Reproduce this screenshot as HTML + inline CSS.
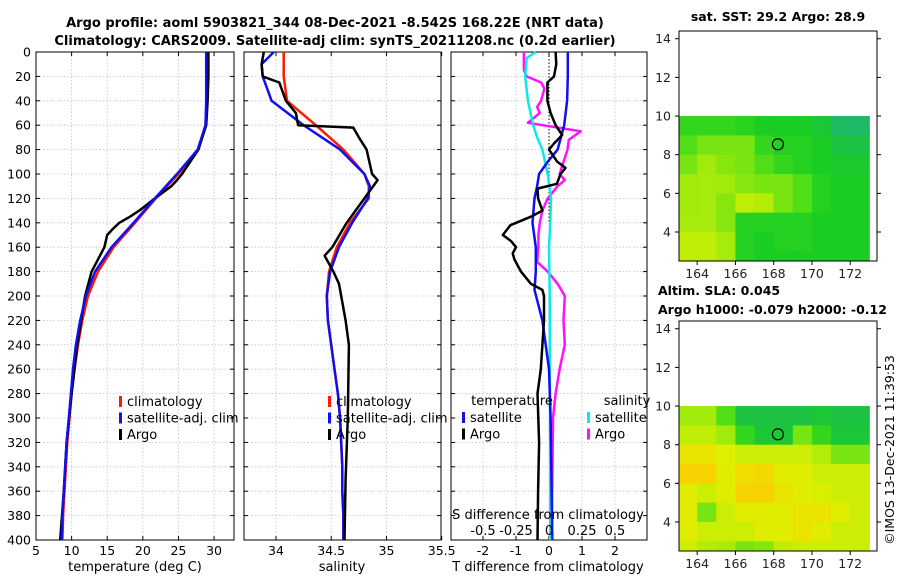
<!DOCTYPE html>
<html><head><meta charset="utf-8">
<style>
html,body{margin:0;padding:0;background:#fff;}
svg{display:block;font-family:"DejaVu Sans","Liberation Sans",sans-serif;}
</style></head>
<body>
<svg id="fig" width="900" height="580" viewBox="0 0 900 580" xmlns="http://www.w3.org/2000/svg">
<text x="335" y="27" text-anchor="middle" font-size="13" font-weight="bold">Argo profile: aoml 5903821_344 08-Dec-2021 -8.542S 168.22E (NRT data)</text>
<text x="335" y="45" text-anchor="middle" font-size="13" font-weight="bold">Climatology: CARS2009. Satellite-adj clim: synTS_20211208.nc (0.2d earlier)</text>
<text x="778" y="21" text-anchor="middle" font-size="12.5" font-weight="bold">sat. SST: 29.2 Argo: 28.9</text>
<text x="658" y="295" font-size="12.5" font-weight="bold">Altim. SLA: 0.045</text>
<text x="658" y="314" font-size="12.5" font-weight="bold">Argo h1000: -0.079 h2000: -0.12</text>
<text transform="translate(894,450) rotate(-90)" text-anchor="middle" font-size="12.5">©IMOS 13-Dec-2021 11:39:53</text>
<g id="plots"></g>
</svg>
<script>
// ---- data ----
const depthTicks = [0,20,40,60,80,100,120,140,160,180,200,220,240,260,280,300,320,340,360,380,400];
const tempTicks = [5,10,15,20,25,30];
const salTicks = [34,34.5,35,35.5];
const tdiffTicks = [-2,-1,0,1,2];
const sdiffTicks = [-0.5,-0.25,0,0.25,0.5];
const sdiffLabels = ["-0.5","-0.25","0","0.25","0.5"];

const climTempDepth = [0,20,40,60,80,100,120,140,160,180,200,220,240,260,280,300,320,340,360,380,400];
const climTemp = [29.0,29.0,29.0,28.8,27.8,25.0,21.8,18.9,15.9,13.7,12.3,11.5,10.9,10.4,10.0,9.7,9.4,9.2,9.0,8.8,8.7];
const satTemp = [28.9,28.9,28.9,28.8,27.7,24.8,21.7,18.7,15.6,13.3,12.0,11.2,10.6,10.2,9.9,9.6,9.3,9.1,8.9,8.7,8.6];
const argoTempDepth = [0,20,40,60,80,100,105,110,120,130,135,140,145,150,160,170,180,200,240,280,320,360,400];
const argoTemp = [29.2,29.2,29.1,28.9,27.8,25.5,24.8,24.0,21.7,19.5,18.2,16.7,15.8,15.0,14.6,13.7,12.8,11.9,10.8,10.0,9.3,8.9,8.4];

const salDepth = [0,10,20,40,60,80,100,110,120,140,160,180,200,220,240,260,280,300,320,340,360,380,400];
const climSal = [34.07,34.07,34.07,34.1,34.36,34.61,34.8,34.84,34.84,34.67,34.55,34.48,34.46,34.47,34.5,34.53,34.56,34.58,34.59,34.6,34.6,34.61,34.61];
const satSal = [33.98,33.87,33.88,33.96,34.25,34.58,34.8,34.85,34.83,34.69,34.57,34.49,34.46,34.47,34.5,34.53,34.56,34.58,34.59,34.6,34.6,34.61,34.61];
const argoSalDepth = [0,10,20,25,40,50,60,62,70,80,100,105,120,140,160,167,180,190,220,240,300,350,400];
const argoSal = [33.89,33.87,33.88,34.03,34.09,34.18,34.2,34.7,34.75,34.82,34.87,34.92,34.8,34.64,34.51,34.44,34.52,34.57,34.63,34.66,34.65,34.63,34.62];

const tdiffDepth = [0,10,20,25,40,50,60,68,75,80,90,95,100,108,112,120,130,135,142,150,155,160,165,170,180,190,195,200,220,260,280,320,360,400];
const argoTdiff = [0.2,0.22,0.15,-0.05,-0.05,0.05,0.2,0.4,0.15,0.0,0.25,0.5,0.35,0.24,-0.35,-0.33,-0.2,-0.55,-1.17,-1.4,-1.15,-1.0,-1.1,-1.05,-0.85,-0.55,-0.2,-0.15,-0.15,-0.25,-0.35,-0.3,-0.33,-0.35];
const satTdiffDepth = [0,20,40,60,70,80,90,100,110,120,140,160,180,195,220,240,260,300,400];
const satTdiff = [0.57,0.57,0.55,0.46,0.36,0.26,-0.04,-0.3,-0.36,-0.44,-0.5,-0.4,-0.4,-0.44,-0.2,-0.1,0.0,0.05,0.1];
const sdiffDepth = [0,5,20,40,60,70,80,100,120,140,160,200,400];
const satSdiff = [-0.1,-0.17,-0.18,-0.16,-0.12,-0.09,-0.05,-0.01,0.015,0.01,0,0.005,0.01];
const argoSdiffDepth = [0,15,20,25,30,40,45,50,58,65,72,80,100,105,110,120,130,140,150,160,172,180,190,200,220,240,260,280,300,400];
const argoSdiff = [-0.19,-0.19,-0.17,-0.06,-0.035,-0.06,-0.09,-0.07,-0.16,0.24,0.15,0.14,0.08,0.12,0.065,-0.01,-0.05,-0.07,-0.08,-0.08,-0.09,-0.01,0.065,0.12,0.11,0.12,0.08,0.05,0.03,0.02];

const lonTicks = [164,166,168,170,172];
const latTicks = [4,6,8,10,12,14];
const cellLats = [9.5,8.5,7.5,6.5,5.5,4.5,3.5,2.75];
const cellLons = [163.5,164.5,165.5,166.5,167.5,168.5,169.5,170.5,171.5,172.5];
const sstGrid = [
[0.5,0.5,0.5,0.48,0.45,0.45,0.45,0.42,0.35,0.35],
[0.55,0.6,0.6,0.6,0.5,0.47,0.47,0.45,0.4,0.4],
[0.6,0.65,0.62,0.6,0.55,0.5,0.47,0.45,0.43,0.43],
[0.65,0.66,0.65,0.62,0.6,0.6,0.55,0.47,0.45,0.45],
[0.65,0.66,0.62,0.7,0.68,0.6,0.55,0.47,0.45,0.45],
[0.66,0.66,0.62,0.47,0.47,0.47,0.47,0.45,0.45,0.45],
[0.7,0.7,0.66,0.47,0.45,0.47,0.47,0.45,0.45,0.45],
[0.7,0.7,0.66,0.47,0.45,0.45,0.45,0.45,0.45,0.45]];
const slaGrid = [
[0.65,0.65,0.55,0.4,0.4,0.4,0.4,0.42,0.4,0.4],
[0.7,0.7,0.65,0.5,0.42,0.42,0.6,0.5,0.42,0.42],
[0.8,0.8,0.75,0.72,0.72,0.72,0.72,0.68,0.6,0.6],
[0.86,0.86,0.76,0.82,0.84,0.76,0.76,0.72,0.72,0.72],
[0.76,0.72,0.76,0.86,0.86,0.8,0.76,0.74,0.72,0.72],
[0.76,0.6,0.72,0.76,0.76,0.76,0.8,0.8,0.76,0.72],
[0.76,0.72,0.72,0.72,0.76,0.76,0.8,0.76,0.72,0.72],
[0.72,0.68,0.66,0.6,0.62,0.7,0.72,0.72,0.72,0.72]];
const floatLon = 168.22, floatLat = 8.54;

// ---- drawing ----
const NS='http://www.w3.org/2000/svg';
const root=document.getElementById('plots');
function mk(tag,attrs,parent){const e=document.createElementNS(NS,tag);for(const k in attrs)e.setAttribute(k,attrs[k]);(parent||root).appendChild(e);return e;}
const Y0=52,Y1=540;
const yD=d=>Y0+(d/400)*(Y1-Y0);
function lin(d0,d1,p0,p1){return v=>p0+(v-d0)/(d1-d0)*(p1-p0);}

function panel(name,x0,x1,xs,xticks,xlabels,showY){
  const g=mk('g',{});
  
  
  xticks.forEach(t=>{const x=xs(t);if(x>x0+1&&x<x1-1){const l=mk('line',{x1:x,x2:x,y1:Y0,y2:Y1,stroke:'#b8c4dc','stroke-width':0.8,'stroke-dasharray':'1.5,2'},g);}});
  depthTicks.forEach(d=>{const y=yD(d);const l=mk('line',{x1:x0,x2:x1,y1:y,y2:y,stroke:'#b8c4dc','stroke-width':0.8,'stroke-dasharray':'1.5,2'},g);
    mk('line',{x1:x0,x2:x0+4,y1:y,y2:y,stroke:'#000'},g);mk('line',{x1:x1,x2:x1-4,y1:y,y2:y,stroke:'#000'},g);
    if(showY){const t=mk('text',{x:x0-5,y:y+4.5,'text-anchor':'end','font-size':12.5},g);t.textContent=d;}});
  xticks.forEach((t,i)=>{const x=xs(t);mk('line',{x1:x,x2:x,y1:Y1,y2:Y1-4,stroke:'#000'},g);mk('line',{x1:x,x2:x,y1:Y0,y2:Y0+4,stroke:'#000'},g);
    if(xlabels){const tx=mk('text',{x:x,y:Y1+15,'text-anchor':'middle','font-size':12.5},g);tx.textContent=xlabels[i];}});
  const r=mk('rect',{x:x0,y:Y0,width:x1-x0,height:Y1-Y0,fill:'none',stroke:'#000','stroke-width':1},g);
  
  return g;
}
function line(g,name,vals,depths,xs,color,w){
  const d=vals.map((v,i)=>(i?'L':'M')+xs(v).toFixed(1)+','+yD(depths[i]).toFixed(1)).join('');
  const p=mk('path',{d:d,fill:'none',stroke:color,'stroke-width':w||2.5,'stroke-linejoin':'round'},g);
  
}
function legend(g,x,y,items){
  items.forEach((it,i)=>{const yy=y+i*16.5;
    const m=mk('rect',{x:x,y:yy-9,width:3,height:11,fill:it[1]},g);
    const t=mk('text',{x:x+8,y:yy+1,'font-size':13},g);t.textContent=it[0];});
}
function label(g,text,x,y,name){const t=mk('text',{x:x,y:y,'text-anchor':'middle','font-size':13},g);t.textContent=text;}

// panel 1 temperature
const xT=lin(5,32.8,36,234);
const p1=panel('temperature-panel',36,234,xT,tempTicks,tempTicks.map(String),true);
line(p1,'climatology-temp-line',climTemp,climTempDepth,xT,'#ff1a00');
line(p1,'argo-temp-line',argoTemp,argoTempDepth,xT,'#000');
line(p1,'satellite-temp-line',satTemp,climTempDepth,xT,'#1010ee');
legend(p1,119,405,[['climatology','#ff1a00'],['satellite-adj. clim','#1010ee'],['Argo','#000']]);
label(p1,'temperature (deg C)',135,571,'temperature-axis-title');

// panel 2 salinity
const xS=lin(34,35.5,276,441.7);
const p2=panel('salinity-panel',244,441,xS,salTicks,['34','34.5','35','35.5'],false);
line(p2,'climatology-sal-line',climSal,salDepth,xS,'#ff1a00');
line(p2,'satellite-sal-line',satSal,salDepth,xS,'#1010ee');
line(p2,'argo-sal-line',argoSal,argoSalDepth,xS,'#000');
legend(p2,328,405,[['climatology','#ff1a00'],['satellite-adj. clim','#1010ee'],['Argo','#000']]);
label(p2,'salinity',342,571,'salinity-axis-title');

// panel 3 differences
const xTd=lin(-3,3,450,648);
const xSd=lin(-0.75,0.75,450,648);
const p3=panel('difference-panel',451,647,xTd,tdiffTicks,tdiffTicks.map(String),false);
const z=mk('line',{x1:xTd(0),x2:xTd(0),y1:Y0,y2:yD(140),stroke:'#000','stroke-width':1,'stroke-dasharray':'1.5,2'},p3);

line(p3,'argo-sdiff-line',argoSdiff,argoSdiffDepth,xSd,'#ff10ff');
line(p3,'satellite-sdiff-line',satSdiff,sdiffDepth,xSd,'#10e8e8');
line(p3,'satellite-tdiff-line',satTdiff,satTdiffDepth,xTd,'#1010ee');
line(p3,'argo-tdiff-line',argoTdiff,tdiffDepth,xTd,'#000');
label(p3,'temperature',512,405,'legend-temperature-header');
label(p3,'salinity',627,405,'legend-salinity-header');
legend(p3,462,421,[['satellite','#1010ee'],['Argo','#000']]);
legend(p3,587,421,[['satellite','#10e8e8'],['Argo','#ff10ff']]);
label(p3,'S difference from climatology',548,519,'s-diff-axis-title');
sdiffTicks.forEach((t,i)=>label(p3,sdiffLabels[i],xSd(t),535,'s-diff-tick-label'));
label(p3,'T difference from climatology',548,571,'t-diff-axis-title');

// maps
function cmap(v){
  const stops=[[0.35,[30,185,100]],[0.45,[25,205,35]],[0.55,[80,222,22]],[0.65,[160,234,12]],[0.75,[222,240,0]],[0.85,[246,214,0]],[0.95,[248,180,0]]];
  if(v<=stops[0][0])return 'rgb('+stops[0][1]+')';
  for(let i=1;i<stops.length;i++){if(v<=stops[i][0]){const a=stops[i-1],b=stops[i],f=(v-a[0])/(b[0]-a[0]);return 'rgb('+a[1].map((c,k)=>Math.round(c+(b[1][k]-c)*f)).join(',')+')';}}
  return 'rgb('+stops[stops.length-1][1]+')';
}
function map(name,top,grid){
  const x0=679,x1=877,bottom=top+230;
  const xs=lin(163.05,173.4,x0,x1), ys=lin(2.5,14.4,bottom,top);
  const g=mk('g',{});
  grid.forEach((row,r)=>row.forEach((v,c)=>{
    const la=cellLats[r],lo=cellLons[c];
    const h=(r===cellLats.length-1)?0.5:1;
    const la0=la-h/2, la1=la+h/2, lo0=Math.max(lo-0.5,163.05), lo1=Math.min(lo+0.5,173.3);
    const rc=mk('rect',{x:xs(lo0),y:ys(la1),width:xs(lo1)-xs(lo0)+0.5,height:ys(la0)-ys(la1)+0.5,fill:cmap(v)},g);
    
  }));
  const ci=mk('circle',{cx:xs(floatLon),cy:ys(floatLat),r:5.5,fill:'none',stroke:'#000','stroke-width':1.2},g);
  
  lonTicks.forEach(t=>{const x=xs(t);mk('line',{x1:x,x2:x,y1:bottom,y2:bottom+4,stroke:'#000'},g);
    const tx=mk('text',{x:x,y:bottom+17,'text-anchor':'middle','font-size':12.5,fill:'#222'},g);tx.textContent=t;});
  latTicks.forEach(t=>{const y=ys(t);mk('line',{x1:x0,x2:x0-4,y1:y,y2:y,stroke:'#000'},g);mk('line',{x1:x1,x2:x1+4,y1:y,y2:y,stroke:'#000'},g);
    const tx=mk('text',{x:x0-8,y:y+4.5,'text-anchor':'end','font-size':12.5,fill:'#222'},g);tx.textContent=t;});
  const b=mk('rect',{x:x0,y:top,width:x1-x0,height:bottom-top,fill:'none',stroke:'#000','stroke-width':1},g);
  
}
map('sst-map',31,sstGrid);
map('sla-map',321,slaGrid);
</script>
</body></html>
